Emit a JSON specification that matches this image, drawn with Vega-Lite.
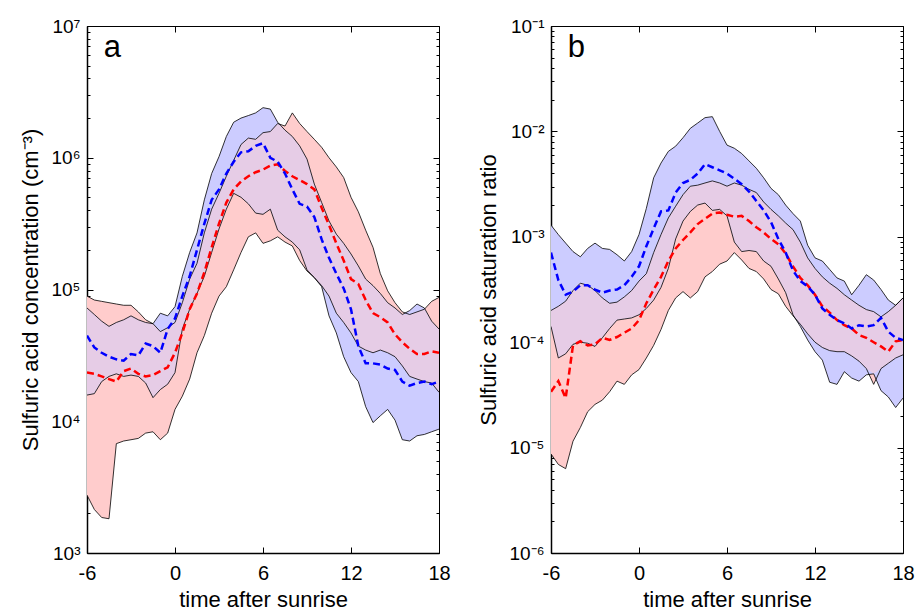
{
"$schema": "https://vega.github.io/schema/vega-lite/v6.json",
"background": "white",
"padding": {"left": 19, "top": 16, "right": 5, "bottom": 0},
"bounds": "flush",
"spacing": 112,
"config": {
  "font": "Liberation Sans",
  "view": {"stroke": "black", "strokeWidth": 1},
  "axis": {"grid": false, "labelFont": "Liberation Sans", "titleFont": "Liberation Sans", "labelColor": "black", "titleColor": "black", "tickColor": "black", "domainColor": "black", "titleFontWeight": "normal", "labelFlush": false, "labelOverlap": false, "labelBound": false}
},
"datasets": {
"a": [
{"t":-6,"rl":2750,"ru":89100,"bl":15800,"bu":72400,"ol":15800,"ou":72400,"rm":23400,"bm":44700},
{"t":-5.5,"rl":2140,"ru":83200,"bl":16200,"bu":64600,"ol":16200,"ou":64600,"rm":22900,"bm":36300},
{"t":-5,"rl":1860,"ru":81300,"bl":20000,"bu":57500,"ol":20000,"ou":57500,"rm":21900,"bm":33100},
{"t":-4.5,"rl":1820,"ru":79400,"bl":21900,"bu":52500,"ol":21900,"ou":52500,"rm":20900,"bm":30900},
{"t":-4,"rl":6760,"ru":77600,"bl":22900,"bu":56200,"ol":22900,"ou":56200,"rm":20000,"bm":29500},
{"t":-3.5,"rl":7080,"ru":75900,"bl":21900,"bu":58900,"ol":21900,"ou":58900,"rm":24000,"bm":28800},
{"t":-3,"rl":7240,"ru":75900,"bl":22400,"bu":63100,"ol":22400,"ou":63100,"rm":25100,"bm":32400},
{"t":-2.5,"rl":7410,"ru":67600,"bl":21900,"bu":58900,"ol":21900,"ou":58900,"rm":22900,"bm":31600},
{"t":-2,"rl":8130,"ru":58900,"bl":19500,"bu":56200,"ol":19500,"ou":56200,"rm":21900,"bm":38900},
{"t":-1.5,"rl":8320,"ru":55000,"bl":15100,"bu":55000,"ol":15100,"ou":55000,"rm":22400,"bm":37200},
{"t":-1,"rl":7240,"ru":47900,"bl":17400,"bu":66100,"ol":17400,"ou":47900,"rm":24000,"bm":33100},
{"t":-0.5,"rl":8130,"ru":51300,"bl":19100,"bu":63100,"ol":19100,"ou":51300,"rm":25700,"bm":50100},
{"t":0,"rl":12300,"ru":56200,"bl":23400,"bu":74100,"ol":23400,"ou":56200,"rm":33100,"bm":60300},
{"t":0.5,"rl":15500,"ru":79400,"bl":50100,"bu":126000,"ol":50100,"ou":79400,"rm":46800,"bm":89100},
{"t":1,"rl":20900,"ru":120000,"bl":70800,"bu":191000,"ol":70800,"ou":120000,"rm":70800,"bm":126000},
{"t":1.5,"rl":33100,"ru":158000,"bl":93300,"bu":269000,"ol":93300,"ou":158000,"rm":93300,"bm":200000},
{"t":2,"rl":44700,"ru":269000,"bl":126000,"bu":479000,"ol":126000,"ou":269000,"rm":135000,"bm":316000},
{"t":2.5,"rl":66100,"ru":407000,"bl":191000,"bu":759000,"ol":191000,"ou":407000,"rm":209000,"bm":479000},
{"t":3,"rl":89100,"ru":537000,"bl":288000,"bu":1020000,"ol":288000,"ou":537000,"rm":316000,"bm":575000},
{"t":3.5,"rl":105000,"ru":724000,"bl":407000,"bu":1450000,"ol":407000,"ou":724000,"rm":457000,"bm":759000},
{"t":4,"rl":141000,"ru":955000,"bl":537000,"bu":1860000,"ol":537000,"ou":955000,"rm":575000,"bm":933000},
{"t":4.5,"rl":191000,"ru":1260000,"bl":501000,"bu":2000000,"ol":501000,"ou":1260000,"rm":661000,"bm":1100000},
{"t":5,"rl":251000,"ru":1410000,"bl":447000,"bu":2090000,"ol":447000,"ou":1410000,"rm":724000,"bm":1120000},
{"t":5.5,"rl":269000,"ru":1380000,"bl":380000,"bu":2190000,"ol":380000,"ou":1380000,"rm":776000,"bm":1230000},
{"t":6,"rl":224000,"ru":1550000,"bl":372000,"bu":2400000,"ol":372000,"ou":1550000,"rm":813000,"bm":1290000},
{"t":6.5,"rl":234000,"ru":1580000,"bl":407000,"bu":2340000,"ol":407000,"ou":1580000,"rm":871000,"bm":1000000},
{"t":7,"rl":251000,"ru":1820000,"bl":282000,"bu":1860000,"ol":282000,"ou":1820000,"rm":891000,"bm":933000},
{"t":7.5,"rl":229000,"ru":1740000,"bl":251000,"bu":1620000,"ol":251000,"ou":1620000,"rm":794000,"bm":759000},
{"t":8,"rl":214000,"ru":2190000,"bl":229000,"bu":1450000,"ol":229000,"ou":1450000,"rm":724000,"bm":575000},
{"t":8.5,"rl":166000,"ru":1820000,"bl":200000,"bu":1230000,"ol":200000,"ou":1230000,"rm":676000,"bm":447000},
{"t":9,"rl":138000,"ru":1580000,"bl":141000,"bu":977000,"ol":141000,"ou":977000,"rm":631000,"bm":427000},
{"t":9.5,"rl":123000,"ru":1380000,"bl":123000,"bu":631000,"ol":123000,"ou":631000,"rm":575000,"bm":355000},
{"t":10,"rl":107000,"ru":1200000,"bl":105000,"bu":457000,"ol":107000,"ou":457000,"rm":417000,"bm":240000},
{"t":10.5,"rl":89100,"ru":1000000,"bl":63100,"bu":331000,"ol":89100,"ou":331000,"rm":309000,"bm":174000},
{"t":11,"rl":66100,"ru":851000,"bl":46800,"bu":263000,"ol":66100,"ou":263000,"rm":224000,"bm":132000},
{"t":11.5,"rl":56200,"ru":708000,"bl":30900,"bu":224000,"ol":56200,"ou":224000,"rm":166000,"bm":102000},
{"t":12,"rl":46800,"ru":501000,"bl":23400,"bu":186000,"ol":46800,"ou":186000,"rm":120000,"bm":70800},
{"t":12.5,"rl":37200,"ru":389000,"bl":20000,"bu":151000,"ol":37200,"ou":151000,"rm":110000,"bm":37200},
{"t":13,"rl":34700,"ru":282000,"bl":12900,"bu":120000,"ol":34700,"ou":120000,"rm":83200,"bm":27500},
{"t":13.5,"rl":33100,"ru":209000,"bl":9770,"bu":107000,"ol":33100,"ou":107000,"rm":66100,"bm":27500},
{"t":14,"rl":34700,"ru":132000,"bl":11000,"bu":93300,"ol":34700,"ou":93300,"rm":61700,"bm":26900},
{"t":14.5,"rl":33100,"ru":97700,"bl":12300,"bu":79400,"ol":33100,"ou":79400,"rm":56200,"bm":25100},
{"t":15,"rl":30900,"ru":79400,"bl":10200,"bu":72400,"ol":30900,"ou":72400,"rm":45700,"bm":24500},
{"t":15.5,"rl":26300,"ru":67600,"bl":7240,"bu":64600,"ol":26300,"ou":64600,"rm":39800,"bm":20000},
{"t":16,"rl":21900,"ru":64600,"bl":7080,"bu":69200,"ol":21900,"ou":64600,"rm":35500,"bm":18600},
{"t":16.5,"rl":20900,"ru":67600,"bl":7760,"bu":77600,"ol":20900,"ou":67600,"rm":32400,"bm":19500},
{"t":17,"rl":20000,"ru":70800,"bl":7940,"bu":72400,"ol":20000,"ou":70800,"rm":32400,"bm":20000},
{"t":17.5,"rl":19500,"ru":81300,"bl":8320,"bu":57500,"ol":19500,"ou":57500,"rm":33900,"bm":19100},
{"t":18,"rl":16600,"ru":87100,"bl":8710,"bu":50100,"ol":16600,"ou":50100,"rm":33100,"bm":20000}
],
"b": [
{"t":-6,"rl":8.71e-6,"ru":2.0e-4,"bl":1.41e-4,"bu":1.29e-3,"ol":1.41e-4,"ou":2.0e-4,"rm":3.39e-5,"bm":7.08e-4},
{"t":-5.5,"rl":6.92e-6,"ru":2.19e-4,"bl":7.08e-5,"bu":1.05e-3,"ol":7.08e-5,"ou":2.19e-4,"rm":4.27e-5,"bm":3.89e-4},
{"t":-5,"rl":6.31e-6,"ru":2.45e-4,"bl":7.76e-5,"bu":8.71e-4,"ol":7.76e-5,"ou":2.45e-4,"rm":2.95e-5,"bm":2.82e-4},
{"t":-4.5,"rl":1.15e-5,"ru":3.09e-4,"bl":9.55e-5,"bu":7.24e-4,"ol":9.55e-5,"ou":3.09e-4,"rm":9.33e-5,"bm":3.02e-4},
{"t":-4,"rl":1.55e-5,"ru":3.63e-4,"bl":1.0e-4,"bu":6.46e-4,"ol":1.0e-4,"ou":3.63e-4,"rm":1.02e-4,"bm":3.47e-4},
{"t":-3.5,"rl":2.19e-5,"ru":3.47e-4,"bl":9.77e-5,"bu":7.76e-4,"ol":9.77e-5,"ou":3.47e-4,"rm":9.33e-5,"bm":3.47e-4},
{"t":-3,"rl":2.57e-5,"ru":3.09e-4,"bl":9.12e-5,"bu":8.71e-4,"ol":9.12e-5,"ou":3.09e-4,"rm":9.55e-5,"bm":3.16e-4},
{"t":-2.5,"rl":2.82e-5,"ru":2.63e-4,"bl":1.10e-4,"bu":7.76e-4,"ol":1.10e-4,"ou":2.63e-4,"rm":1.10e-4,"bm":2.95e-4},
{"t":-2,"rl":3.39e-5,"ru":2.34e-4,"bl":1.35e-4,"bu":7.59e-4,"ol":1.35e-4,"ou":2.34e-4,"rm":1.05e-4,"bm":3.09e-4},
{"t":-1.5,"rl":4.27e-5,"ru":2.40e-4,"bl":1.62e-4,"bu":6.76e-4,"ol":1.62e-4,"ou":2.40e-4,"rm":1.12e-4,"bm":3.16e-4},
{"t":-1,"rl":3.98e-5,"ru":2.69e-4,"bl":1.66e-4,"bu":5.89e-4,"ol":1.66e-4,"ou":2.69e-4,"rm":1.23e-4,"bm":3.47e-4},
{"t":-0.5,"rl":4.90e-5,"ru":3.09e-4,"bl":1.70e-4,"bu":7.24e-4,"ol":1.70e-4,"ou":3.09e-4,"rm":1.35e-4,"bm":4.17e-4},
{"t":0,"rl":5.50e-5,"ru":3.80e-4,"bl":1.82e-4,"bu":1.05e-3,"ol":1.82e-4,"ou":3.80e-4,"rm":1.62e-4,"bm":5.25e-4},
{"t":0.5,"rl":7.08e-5,"ru":4.47e-4,"bl":2.09e-4,"bu":1.86e-3,"ol":2.09e-4,"ou":4.47e-4,"rm":2.34e-4,"bm":8.13e-4},
{"t":1,"rl":9.33e-5,"ru":7.08e-4,"bl":2.51e-4,"bu":3.63e-3,"ol":2.51e-4,"ou":7.08e-4,"rm":3.16e-4,"bm":1.20e-3},
{"t":1.5,"rl":1.32e-4,"ru":1.05e-3,"bl":3.31e-4,"bu":5.01e-3,"ol":3.31e-4,"ou":1.05e-3,"rm":4.17e-4,"bm":1.74e-3},
{"t":2,"rl":2.0e-4,"ru":1.51e-3,"bl":5.01e-4,"bu":6.46e-3,"ol":5.01e-4,"ou":1.51e-3,"rm":5.89e-4,"bm":1.78e-3},
{"t":2.5,"rl":2.63e-4,"ru":1.95e-3,"bl":9.55e-4,"bu":7.24e-3,"ol":9.55e-4,"ou":1.95e-3,"rm":7.76e-4,"bm":2.63e-3},
{"t":3,"rl":3.02e-4,"ru":2.51e-3,"bl":1.41e-3,"bu":8.71e-3,"ol":1.41e-3,"ou":2.51e-3,"rm":9.33e-4,"bm":3.24e-3},
{"t":3.5,"rl":2.63e-4,"ru":3.02e-3,"bl":1.74e-3,"bu":1.07e-2,"ol":1.74e-3,"ou":3.02e-3,"rm":1.10e-3,"bm":3.47e-3},
{"t":4,"rl":3.02e-4,"ru":3.09e-3,"bl":2.0e-3,"bu":1.20e-2,"ol":2.0e-3,"ou":3.09e-3,"rm":1.32e-3,"bm":3.98e-3},
{"t":4.5,"rl":4.17e-4,"ru":3.24e-3,"bl":2.09e-3,"bu":1.35e-2,"ol":2.09e-3,"ou":3.24e-3,"rm":1.48e-3,"bm":4.90e-3},
{"t":5,"rl":4.68e-4,"ru":3.39e-3,"bl":1.78e-3,"bu":1.38e-2,"ol":1.78e-3,"ou":3.39e-3,"rm":1.66e-3,"bm":4.57e-3},
{"t":5.5,"rl":5.50e-4,"ru":3.24e-3,"bl":1.82e-3,"bu":1.0e-2,"ol":1.82e-3,"ou":3.24e-3,"rm":1.70e-3,"bm":4.27e-3},
{"t":6,"rl":5.89e-4,"ru":3.02e-3,"bl":1.58e-3,"bu":7.41e-3,"ol":1.58e-3,"ou":3.02e-3,"rm":1.62e-3,"bm":3.98e-3},
{"t":6.5,"rl":7.08e-4,"ru":3.24e-3,"bl":8.91e-4,"bu":6.92e-3,"ol":8.91e-4,"ou":3.24e-3,"rm":1.55e-3,"bm":3.55e-3},
{"t":7,"rl":6.03e-4,"ru":3.09e-3,"bl":7.24e-4,"bu":6.17e-3,"ol":7.24e-4,"ou":3.09e-3,"rm":1.58e-3,"bm":3.16e-3},
{"t":7.5,"rl":5.01e-4,"ru":2.82e-3,"bl":7.41e-4,"bu":5.25e-3,"ol":7.41e-4,"ou":2.82e-3,"rm":1.41e-3,"bm":2.69e-3},
{"t":8,"rl":4.68e-4,"ru":2.63e-3,"bl":7.24e-4,"bu":4.47e-3,"ol":7.24e-4,"ou":2.63e-3,"rm":1.23e-3,"bm":2.19e-3},
{"t":8.5,"rl":3.98e-4,"ru":2.14e-3,"bl":5.89e-4,"bu":3.63e-3,"ol":5.89e-4,"ou":2.14e-3,"rm":1.10e-3,"bm":1.78e-3},
{"t":9,"rl":3.16e-4,"ru":1.82e-3,"bl":5.25e-4,"bu":2.88e-3,"ol":5.25e-4,"ou":1.82e-3,"rm":9.55e-4,"bm":1.38e-3},
{"t":9.5,"rl":2.88e-4,"ru":1.58e-3,"bl":3.98e-4,"bu":2.51e-3,"ol":3.98e-4,"ou":1.58e-3,"rm":8.51e-4,"bm":9.55e-4},
{"t":10,"rl":2.19e-4,"ru":1.35e-3,"bl":2.95e-4,"bu":2.0e-3,"ol":2.95e-4,"ou":1.35e-3,"rm":6.92e-4,"bm":7.08e-4},
{"t":10.5,"rl":1.78e-4,"ru":1.17e-3,"bl":1.82e-4,"bu":1.66e-3,"ol":1.82e-4,"ou":1.17e-3,"rm":5.25e-4,"bm":4.79e-4},
{"t":11,"rl":1.48e-4,"ru":8.91e-4,"bl":1.41e-4,"bu":1.41e-3,"ol":1.48e-4,"ou":8.91e-4,"rm":4.07e-4,"bm":3.80e-4},
{"t":11.5,"rl":1.20e-4,"ru":6.31e-4,"bl":1.05e-4,"bu":8.32e-4,"ol":1.20e-4,"ou":6.31e-4,"rm":3.47e-4,"bm":3.39e-4},
{"t":12,"rl":1.0e-4,"ru":5.01e-4,"bl":8.13e-5,"bu":6.31e-4,"ol":1.0e-4,"ou":5.01e-4,"rm":2.82e-4,"bm":2.82e-4},
{"t":12.5,"rl":8.91e-5,"ru":4.17e-4,"bl":6.76e-5,"bu":5.89e-4,"ol":8.91e-5,"ou":4.17e-4,"rm":2.19e-4,"bm":2.09e-4},
{"t":13,"rl":8.32e-5,"ru":3.63e-4,"bl":4.17e-5,"bu":4.90e-4,"ol":8.32e-5,"ou":3.63e-4,"rm":1.91e-4,"bm":1.82e-4},
{"t":13.5,"rl":8.13e-5,"ru":3.24e-4,"bl":3.98e-5,"bu":4.07e-4,"ol":8.13e-5,"ou":3.24e-4,"rm":1.62e-4,"bm":1.62e-4},
{"t":14,"rl":8.13e-5,"ru":2.82e-4,"bl":5.25e-5,"bu":3.80e-4,"ol":8.13e-5,"ou":2.82e-4,"rm":1.45e-4,"bm":1.51e-4},
{"t":14.5,"rl":7.41e-5,"ru":2.51e-4,"bl":4.57e-5,"bu":2.82e-4,"ol":7.41e-5,"ou":2.51e-4,"rm":1.35e-4,"bm":1.35e-4},
{"t":15,"rl":6.61e-5,"ru":2.24e-4,"bl":4.27e-5,"bu":3.47e-4,"ol":6.61e-5,"ou":2.24e-4,"rm":1.17e-4,"bm":1.45e-4},
{"t":15.5,"rl":5.62e-5,"ru":2.04e-4,"bl":4.90e-5,"bu":4.37e-4,"ol":5.62e-5,"ou":2.04e-4,"rm":1.10e-4,"bm":1.41e-4},
{"t":16,"rl":3.98e-5,"ru":1.95e-4,"bl":5.01e-5,"bu":3.89e-4,"ol":5.01e-5,"ou":1.95e-4,"rm":1.0e-4,"bm":1.45e-4},
{"t":16.5,"rl":5.62e-5,"ru":1.74e-4,"bl":3.47e-5,"bu":3.16e-4,"ol":5.62e-5,"ou":1.74e-4,"rm":9.12e-5,"bm":1.70e-4},
{"t":17,"rl":6.31e-5,"ru":1.95e-4,"bl":3.02e-5,"bu":2.51e-4,"ol":6.31e-5,"ou":1.95e-4,"rm":8.13e-5,"bm":1.26e-4},
{"t":17.5,"rl":7.08e-5,"ru":2.24e-4,"bl":2.40e-5,"bu":2.24e-4,"ol":7.08e-5,"ou":2.24e-4,"rm":1.02e-4,"bm":1.10e-4},
{"t":18,"rl":7.59e-5,"ru":2.63e-4,"bl":2.95e-5,"bu":2.63e-4,"ol":7.59e-5,"ou":2.63e-4,"rm":1.05e-4,"bm":1.05e-4}
]
},
"hconcat": [
{
  "width": 352, "height": 527,
  "data": {"name": "a"},
  "resolve": {"axis": {"x": "independent", "y": "independent"}},
  "layer": [
    {"mark": {"type": "area", "color": "#FFCCCC", "opacity": 1, "clip": true},
     "encoding": {
       "x": {"field": "t", "type": "quantitative", "scale": {"domain": [-6, 18], "nice": false, "zero": false},
             "axis": {"orient": "bottom", "values": [-6, 0, 6, 12, 18], "labelExpr": "datum.value < 0 ? '-' + abs(datum.value) : '' + datum.value", "tickSize": -6, "labelPadding": 16, "labelFontSize": 20, "domainWidth": 1.5, "title": "time after sunrise", "titleFontSize": 22, "titlePadding": 6}},
       "y": {"field": "rl", "type": "quantitative", "scale": {"type": "log", "domain": [1000, 10000000], "nice": false},
             "axis": {"orient": "left", "values": [1000,2000,3000,4000,5000,6000,7000,8000,9000,10000,20000,30000,40000,50000,60000,70000,80000,90000,100000,200000,300000,400000,500000,600000,700000,800000,900000,1000000,2000000,3000000,4000000,5000000,6000000,7000000,8000000,9000000,10000000],
                      "labelExpr": "abs(log(datum.value)/LN10 - round(log(datum.value)/LN10)) < 0.001 ? '10' + ['⁰','¹','²','³','⁴','⁵','⁶','⁷','⁸','⁹'][round(log(datum.value)/LN10)] : ''",
                      "tickSize": {"condition": {"test": "abs(log(datum.value)/LN10 - round(log(datum.value)/LN10)) < 0.001", "value": -6}, "value": -3},
                      "labelPadding": 13, "labelFontSize": 19, "domainWidth": 1.5,
                      "title": "Sulfuric acid concentration (cm⁻³)", "titleFontSize": 22, "titlePadding": 8}},
       "y2": {"field": "ru"}}},
    {"mark": {"type": "area", "color": "#CCCCFF", "opacity": 1, "clip": true},
     "encoding": {
       "x": {"field": "t", "type": "quantitative", "scale": {"domain": [-6, 18], "nice": false, "zero": false},
             "axis": {"orient": "top", "values": [-6, 0, 6, 12, 18], "labels": false, "tickSize": -6, "domain": false, "title": null}},
       "y": {"field": "bl", "type": "quantitative", "scale": {"type": "log", "domain": [1000, 10000000], "nice": false},
             "axis": {"orient": "right", "values": [1000,2000,3000,4000,5000,6000,7000,8000,9000,10000,20000,30000,40000,50000,60000,70000,80000,90000,100000,200000,300000,400000,500000,600000,700000,800000,900000,1000000,2000000,3000000,4000000,5000000,6000000,7000000,8000000,9000000,10000000],
                      "labels": false, "domain": false, "title": null,
                      "tickSize": {"condition": {"test": "abs(log(datum.value)/LN10 - round(log(datum.value)/LN10)) < 0.001", "value": -6}, "value": -3}}},
       "y2": {"field": "bu"}}},
    {"mark": {"type": "area", "color": "#E6CCE6", "opacity": 1, "clip": true},
     "encoding": {
       "x": {"field": "t", "type": "quantitative", "scale": {"domain": [-6, 18], "nice": false, "zero": false}, "axis": null},
       "y": {"field": "ol", "type": "quantitative", "scale": {"type": "log", "domain": [1000, 10000000], "nice": false}, "axis": null},
       "y2": {"field": "ou"}}},
    {"mark": {"type": "line", "color": "black", "strokeWidth": 0.8, "clip": true},
     "encoding": {
       "x": {"field": "t", "type": "quantitative", "scale": {"domain": [-6, 18], "nice": false, "zero": false}, "axis": null},
       "y": {"field": "rl", "type": "quantitative", "scale": {"type": "log", "domain": [1000, 10000000], "nice": false}, "axis": null}}},
    {"mark": {"type": "line", "color": "black", "strokeWidth": 0.8, "clip": true},
     "encoding": {
       "x": {"field": "t", "type": "quantitative", "scale": {"domain": [-6, 18], "nice": false, "zero": false}, "axis": null},
       "y": {"field": "ru", "type": "quantitative", "scale": {"type": "log", "domain": [1000, 10000000], "nice": false}, "axis": null}}},
    {"mark": {"type": "line", "color": "black", "strokeWidth": 0.8, "clip": true},
     "encoding": {
       "x": {"field": "t", "type": "quantitative", "scale": {"domain": [-6, 18], "nice": false, "zero": false}, "axis": null},
       "y": {"field": "bl", "type": "quantitative", "scale": {"type": "log", "domain": [1000, 10000000], "nice": false}, "axis": null}}},
    {"mark": {"type": "line", "color": "black", "strokeWidth": 0.8, "clip": true},
     "encoding": {
       "x": {"field": "t", "type": "quantitative", "scale": {"domain": [-6, 18], "nice": false, "zero": false}, "axis": null},
       "y": {"field": "bu", "type": "quantitative", "scale": {"type": "log", "domain": [1000, 10000000], "nice": false}, "axis": null}}},
    {"mark": {"type": "line", "color": "#FF0000", "strokeWidth": 2.5, "strokeDash": [7, 4], "clip": true},
     "encoding": {
       "x": {"field": "t", "type": "quantitative", "scale": {"domain": [-6, 18], "nice": false, "zero": false}, "axis": null},
       "y": {"field": "rm", "type": "quantitative", "scale": {"type": "log", "domain": [1000, 10000000], "nice": false}, "axis": null}}},
    {"mark": {"type": "line", "color": "#0000FF", "strokeWidth": 2.5, "strokeDash": [7, 4], "clip": true},
     "encoding": {
       "x": {"field": "t", "type": "quantitative", "scale": {"domain": [-6, 18], "nice": false, "zero": false}, "axis": null},
       "y": {"field": "bm", "type": "quantitative", "scale": {"type": "log", "domain": [1000, 10000000], "nice": false}, "axis": null}}},
    {"data": {"values": [{"k": "a"}]},
     "mark": {"type": "text", "fontSize": 31, "align": "left", "baseline": "alphabetic", "color": "black"},
     "encoding": {
       "x": {"datum": -4.85, "type": "quantitative", "scale": {"domain": [-6, 18], "nice": false, "zero": false}, "axis": null},
       "y": {"datum": 5800000, "type": "quantitative", "scale": {"type": "log", "domain": [1000, 10000000], "nice": false}, "axis": null},
       "text": {"field": "k"}}}
  ]
},
{
  "width": 352, "height": 527,
  "data": {"name": "b"},
  "resolve": {"axis": {"x": "independent", "y": "independent"}},
  "layer": [
    {"mark": {"type": "area", "color": "#FFCCCC", "opacity": 1, "clip": true},
     "encoding": {
       "x": {"field": "t", "type": "quantitative", "scale": {"domain": [-6, 18], "nice": false, "zero": false},
             "axis": {"orient": "bottom", "values": [-6, 0, 6, 12, 18], "labelExpr": "datum.value < 0 ? '-' + abs(datum.value) : '' + datum.value", "tickSize": -6, "labelPadding": 16, "labelFontSize": 20, "domainWidth": 1.5, "title": "time after sunrise", "titleFontSize": 22, "titlePadding": 6}},
       "y": {"field": "rl", "type": "quantitative", "scale": {"type": "log", "domain": [0.000001, 0.1], "nice": false},
             "axis": {"orient": "left", "values": [0.000001,0.000002,0.000003,0.000004,0.000005,0.000006,0.000007,0.000008,0.000009,0.00001,0.00002,0.00003,0.00004,0.00005,0.00006,0.00007,0.00008,0.00009,0.0001,0.0002,0.0003,0.0004,0.0005,0.0006,0.0007,0.0008,0.0009,0.001,0.002,0.003,0.004,0.005,0.006,0.007,0.008,0.009,0.01,0.02,0.03,0.04,0.05,0.06,0.07,0.08,0.09,0.1],
                      "labelExpr": "abs(log(datum.value)/LN10 - round(log(datum.value)/LN10)) < 0.001 ? '10⁻' + ['⁰','¹','²','³','⁴','⁵','⁶','⁷','⁸','⁹'][-round(log(datum.value)/LN10)] : ''",
                      "tickSize": {"condition": {"test": "abs(log(datum.value)/LN10 - round(log(datum.value)/LN10)) < 0.001", "value": -6}, "value": -3},
                      "labelPadding": 13, "labelFontSize": 19, "domainWidth": 1.5,
                      "title": "Sulfuric acid saturation ratio", "titleFontSize": 22, "titlePadding": 8}},
       "y2": {"field": "ru"}}},
    {"mark": {"type": "area", "color": "#CCCCFF", "opacity": 1, "clip": true},
     "encoding": {
       "x": {"field": "t", "type": "quantitative", "scale": {"domain": [-6, 18], "nice": false, "zero": false},
             "axis": {"orient": "top", "values": [-6, 0, 6, 12, 18], "labels": false, "tickSize": -6, "domain": false, "title": null}},
       "y": {"field": "bl", "type": "quantitative", "scale": {"type": "log", "domain": [0.000001, 0.1], "nice": false},
             "axis": {"orient": "right", "values": [0.000001,0.000002,0.000003,0.000004,0.000005,0.000006,0.000007,0.000008,0.000009,0.00001,0.00002,0.00003,0.00004,0.00005,0.00006,0.00007,0.00008,0.00009,0.0001,0.0002,0.0003,0.0004,0.0005,0.0006,0.0007,0.0008,0.0009,0.001,0.002,0.003,0.004,0.005,0.006,0.007,0.008,0.009,0.01,0.02,0.03,0.04,0.05,0.06,0.07,0.08,0.09,0.1],
                      "labels": false, "domain": false, "title": null,
                      "tickSize": {"condition": {"test": "abs(log(datum.value)/LN10 - round(log(datum.value)/LN10)) < 0.001", "value": -6}, "value": -3}}},
       "y2": {"field": "bu"}}},
    {"mark": {"type": "area", "color": "#E6CCE6", "opacity": 1, "clip": true},
     "encoding": {
       "x": {"field": "t", "type": "quantitative", "scale": {"domain": [-6, 18], "nice": false, "zero": false}, "axis": null},
       "y": {"field": "ol", "type": "quantitative", "scale": {"type": "log", "domain": [0.000001, 0.1], "nice": false}, "axis": null},
       "y2": {"field": "ou"}}},
    {"mark": {"type": "line", "color": "black", "strokeWidth": 0.8, "clip": true},
     "encoding": {
       "x": {"field": "t", "type": "quantitative", "scale": {"domain": [-6, 18], "nice": false, "zero": false}, "axis": null},
       "y": {"field": "rl", "type": "quantitative", "scale": {"type": "log", "domain": [0.000001, 0.1], "nice": false}, "axis": null}}},
    {"mark": {"type": "line", "color": "black", "strokeWidth": 0.8, "clip": true},
     "encoding": {
       "x": {"field": "t", "type": "quantitative", "scale": {"domain": [-6, 18], "nice": false, "zero": false}, "axis": null},
       "y": {"field": "ru", "type": "quantitative", "scale": {"type": "log", "domain": [0.000001, 0.1], "nice": false}, "axis": null}}},
    {"mark": {"type": "line", "color": "black", "strokeWidth": 0.8, "clip": true},
     "encoding": {
       "x": {"field": "t", "type": "quantitative", "scale": {"domain": [-6, 18], "nice": false, "zero": false}, "axis": null},
       "y": {"field": "bl", "type": "quantitative", "scale": {"type": "log", "domain": [0.000001, 0.1], "nice": false}, "axis": null}}},
    {"mark": {"type": "line", "color": "black", "strokeWidth": 0.8, "clip": true},
     "encoding": {
       "x": {"field": "t", "type": "quantitative", "scale": {"domain": [-6, 18], "nice": false, "zero": false}, "axis": null},
       "y": {"field": "bu", "type": "quantitative", "scale": {"type": "log", "domain": [0.000001, 0.1], "nice": false}, "axis": null}}},
    {"mark": {"type": "line", "color": "#FF0000", "strokeWidth": 2.5, "strokeDash": [7, 4], "clip": true},
     "encoding": {
       "x": {"field": "t", "type": "quantitative", "scale": {"domain": [-6, 18], "nice": false, "zero": false}, "axis": null},
       "y": {"field": "rm", "type": "quantitative", "scale": {"type": "log", "domain": [0.000001, 0.1], "nice": false}, "axis": null}}},
    {"mark": {"type": "line", "color": "#0000FF", "strokeWidth": 2.5, "strokeDash": [7, 4], "clip": true},
     "encoding": {
       "x": {"field": "t", "type": "quantitative", "scale": {"domain": [-6, 18], "nice": false, "zero": false}, "axis": null},
       "y": {"field": "bm", "type": "quantitative", "scale": {"type": "log", "domain": [0.000001, 0.1], "nice": false}, "axis": null}}},
    {"data": {"values": [{"k": "b"}]},
     "mark": {"type": "text", "fontSize": 31, "align": "left", "baseline": "alphabetic", "color": "black"},
     "encoding": {
       "x": {"datum": -4.85, "type": "quantitative", "scale": {"domain": [-6, 18], "nice": false, "zero": false}, "axis": null},
       "y": {"datum": 0.0508, "type": "quantitative", "scale": {"type": "log", "domain": [0.000001, 0.1], "nice": false}, "axis": null},
       "text": {"field": "k"}}}
  ]
}
]
}
